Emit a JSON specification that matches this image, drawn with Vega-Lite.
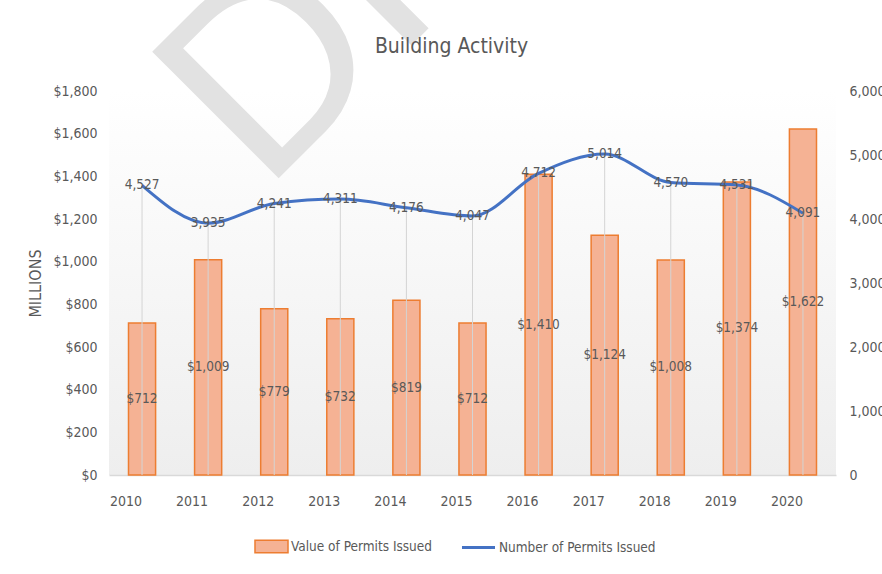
{
  "$schema": "https://vega.github.io/schema/vega-lite/v6.json",
  "width": 727,
  "height": 384,
  "autosize": {"type": "none"},
  "padding": {"left": 109, "top": 91, "right": 46, "bottom": 99},
  "background": "white",
  "title": {"text": "Building Activity", "fontSize": 21, "fontWeight": "normal", "color": "#595959", "anchor": "middle", "dx": -21, "dy": 648, "offset": 24},
  "config": {
    "font": "DejaVu Sans Condensed, sans-serif",
    "view": {"stroke": null, "fill": {"gradient": "linear", "x1": 0, "y1": 0, "x2": 0, "y2": 1, "stops": [{"offset": 0, "color": "#ffffff"}, {"offset": 1, "color": "#eeeeee"}]}},
    "axis": {"labelColor": "#595959", "labelFontSize": 14, "grid": false, "ticks": false, "domain": false, "titleColor": "#595959", "titleFontWeight": "normal"},
    "legend": {"labelColor": "#595959", "labelFontSize": 13.5, "labelLimit": 400, "orient": "none", "direction": "horizontal", "title": null}
  },
  "data": {"values": [
    {"year": 2010, "value": 712, "number": 4527},
    {"year": 2011, "value": 1009, "number": 3935},
    {"year": 2012, "value": 779, "number": 4241},
    {"year": 2013, "value": 732, "number": 4311},
    {"year": 2014, "value": 819, "number": 4176},
    {"year": 2015, "value": 712, "number": 4047},
    {"year": 2016, "value": 1410, "number": 4712},
    {"year": 2017, "value": 1124, "number": 5014},
    {"year": 2018, "value": 1008, "number": 4570},
    {"year": 2019, "value": 1374, "number": 4531},
    {"year": 2020, "value": 1622, "number": 4091}
  ]},
  "layer": [
    {
      "data": {"values": [{"label": "DRAFT"}]},
      "mark": {"type": "text", "fontSize": 260, "angle": -45, "align": "left", "baseline": "alphabetic", "color": "#e2e2e2", "font": "Liberation Sans", "dx": -15},
      "encoding": {
        "text": {"field": "label"},
        "x": {"datum": 2012, "type": "ordinal"},
        "y": {"datum": 1370, "type": "quantitative", "scale": {"domain": [0, 1800]}, "axis": null}
      }
    },
    {
      "mark": {"type": "bar", "width": {"band": 0.41}, "stroke": "#ed7d31", "strokeWidth": 1.5},
      "encoding": {
        "x": {"field": "year", "type": "ordinal", "scale": {"paddingInner": 0, "paddingOuter": 0}, "axis": {"title": null, "labelAngle": 0, "domain": true, "domainColor": "#d9d9d9", "domainWidth": 1.5, "labelPadding": 26}},
        "y": {"field": "value", "type": "quantitative", "scale": {"domain": [0, 1800]}, "axis": {"title": "MILLIONS", "titleFontSize": 16, "titlePadding": 9, "values": [0, 200, 400, 600, 800, 1000, 1200, 1400, 1600, 1800], "format": "$,.0f", "labelPadding": 12}},
        "fill": {"datum": "Value of Permits Issued", "scale": {"range": ["#f5b294"]}, "legend": {"symbolType": "M-1.3,-0.5H1.3V0.5H-1.3Z", "symbolSize": 645, "symbolStrokeColor": "#ed7d31", "symbolStrokeWidth": 1.5, "labelOffset": 6, "legendX": 149, "legendY": 442}}
      }
    },
    {
      "layer": [
        {
          "mark": {"type": "rule", "color": "#d4d4d4", "strokeWidth": 1},
          "encoding": {
            "x": {"field": "year", "type": "ordinal"},
            "y": {"field": "number", "type": "quantitative", "scale": {"domain": [0, 6000]}, "axis": {"orient": "right", "title": null, "values": [0, 1000, 2000, 3000, 4000, 5000, 6000], "format": ",.0f", "labelPadding": 13}},
            "y2": {"datum": 0}
          }
        },
        {
          "mark": {"type": "line", "strokeWidth": 3, "interpolate": "monotone"},
          "encoding": {
            "x": {"field": "year", "type": "ordinal"},
            "y": {"field": "number", "type": "quantitative"},
            "stroke": {"datum": "Number of Permits Issued", "scale": {"range": ["#4472c4"]}, "legend": {"symbolType": "M-1.3,0H1.3", "symbolSize": 645, "symbolStrokeWidth": 3, "labelOffset": 6, "legendX": 355, "legendY": 442}}
          }
        },
        {
          "mark": {"type": "text", "fontSize": 13.5, "color": "#595959", "baseline": "middle"},
          "encoding": {
            "x": {"field": "year", "type": "ordinal"},
            "y": {"field": "number", "type": "quantitative"},
            "text": {"field": "number", "type": "quantitative", "format": ",.0f"}
          }
        }
      ]
    },
    {
      "mark": {"type": "text", "fontSize": 13.5, "color": "#595959", "baseline": "middle"},
      "encoding": {
        "x": {"field": "year", "type": "ordinal"},
        "y": {"field": "value", "type": "quantitative", "scale": {"domain": [0, 3600]}, "axis": null},
        "text": {"field": "value", "type": "quantitative", "format": "$,.0f"}
      }
    }
  ],
  "resolve": {"scale": {"y": "independent", "fill": "independent", "stroke": "independent"}}
}
